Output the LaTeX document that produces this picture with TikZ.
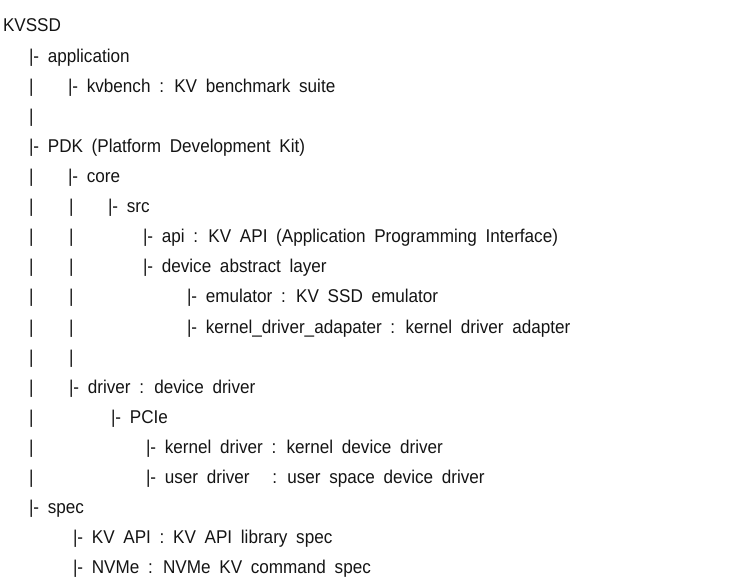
\documentclass[tikz,border=0pt]{standalone}
\usepackage{fontspec}
\setmainfont{Liberation Sans}[FakeStretch=0.925]
\newcommand{\wsp}{\spaceskip=8.7pt plus 0pt minus 0pt\relax}
\begin{document}
\begin{tikzpicture}[x=1pt,y=1pt,
  t/.style={anchor=base west,inner sep=0pt,outer sep=0pt,text=black!92,
    font=\fontsize{18.5}{22}\selectfont, execute at begin node=\wsp}]
\useasboundingbox (0,0) rectangle (754,-578);
% line 0
\node[t] (root) at (3,-32) {KVSSD};
% line 1
\node[t] (app) at (29,-62.1) {|- application};
% line 2
\node[t] (b2a) at (29,-92.2) {|};
\node[t] (kvb) at (68,-92.2) {|- kvbench : KV benchmark suite};
% line 3
\node[t] (b3a) at (29,-122.3) {|};
% line 4
\node[t] (pdk) at (29,-152.4) {|- PDK (Platform Development Kit)};
% line 5
\node[t] (b5a) at (29,-182.5) {|};
\node[t] (core) at (68,-182.5) {|- core};
% line 6
\node[t] (b6a) at (29,-212.6) {|};
\node[t] (b6b) at (69,-212.6) {|};
\node[t] (src) at (108,-212.6) {|- src};
% line 7
\node[t] (b7a) at (29,-242.7) {|};
\node[t] (b7b) at (69,-242.7) {|};
\node[t] (api) at (143,-242.7) {|- api : KV API (Application Programming Interface)};
% line 8
\node[t] (b8a) at (29,-272.8) {|};
\node[t] (b8b) at (69,-272.8) {|};
\node[t] (dal) at (143,-272.8) {|- device abstract layer};
% line 9
\node[t] (b9a) at (29,-302.9) {|};
\node[t] (b9b) at (69,-302.9) {|};
\node[t] (emu) at (187,-302.9) {|- emulator : KV SSD emulator};
% line 10
\node[t] (b10a) at (29,-333) {|};
\node[t] (b10b) at (69,-333) {|};
\node[t] (kda) at (187,-333) {|- kernel\_driver\_adapater : kernel driver adapter};
% line 11
\node[t] (b11a) at (29,-363.1) {|};
\node[t] (b11b) at (69,-363.1) {|};
% line 12
\node[t] (b12a) at (29,-393.2) {|};
\node[t] (drv) at (69,-393.2) {|- driver : device driver};
% line 13
\node[t] (b13a) at (29,-423.3) {|};
\node[t] (pcie) at (111,-423.3) {|- PCIe};
% line 14
\node[t] (b14a) at (29,-453.4) {|};
\node[t] (kdrv) at (146,-453.4) {|- kernel driver : kernel device driver};
% line 15
\node[t] (b15a) at (29,-483.5) {|};
\node[t] (udrv) at (146,-483.5) {|- user driver\hspace{14pt} : user space device driver};
% line 16
\node[t] (spec) at (29,-513.6) {|- spec};
% line 17
\node[t] (kvapi) at (73,-543.7) {|- KV API : KV API library spec};
% line 18
\node[t] (nvme) at (73,-573.8) {|- NVMe : NVMe KV command spec};
\end{tikzpicture}
\end{document}
